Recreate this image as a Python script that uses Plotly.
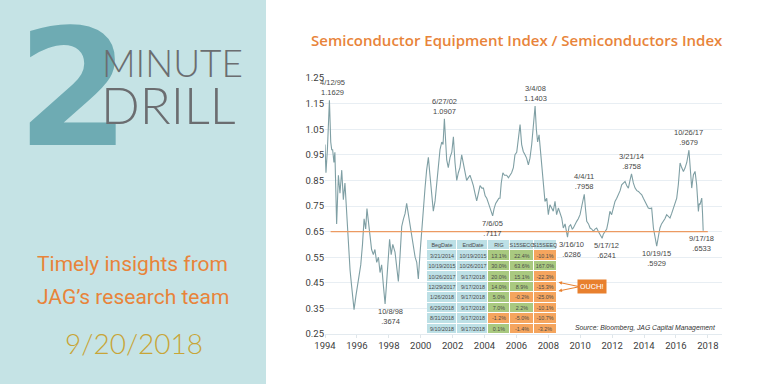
import plotly.graph_objects as go
import pandas as pd

# ---------------- data ----------------
# decimal-year dates and ratio values
DATES_DEC = [
    1995.00, 1995.06, 1995.15, 1995.22, 1995.277, 1995.36, 1995.42, 1995.48, 1995.56, 1995.62,
    1995.73, 1995.84, 1995.94, 1996.05, 1996.15, 1996.25, 1996.36, 1996.42, 1996.46, 1996.57,
    1996.67, 1996.82, 1996.94, 1997.09, 1997.24, 1997.35, 1997.45, 1997.55, 1997.63, 1997.72,
    1997.82, 1997.92, 1998.03, 1998.13, 1998.24, 1998.35, 1998.45, 1998.55, 1998.66, 1998.767,
    1998.85, 1998.95, 1999.05, 1999.15, 1999.25, 1999.39, 1999.50, 1999.60, 1999.70, 1999.81,
    1999.92, 2000.02, 2000.12, 2000.22, 2000.33, 2000.45, 2000.54, 2000.65, 2000.75, 2000.85,
    2000.95, 2001.06, 2001.17, 2001.27, 2001.37, 2001.48, 2001.58, 2001.68, 2001.79, 2001.90,
    2002.00, 2002.10, 2002.21, 2002.32, 2002.40, 2002.485, 2002.56, 2002.63, 2002.73, 2002.84,
    2002.95, 2003.05, 2003.15, 2003.26, 2003.36, 2003.46, 2003.57, 2003.67, 2003.78, 2003.88,
    2003.98, 2004.09, 2004.20, 2004.30, 2004.40, 2004.51, 2004.62, 2004.72, 2004.83, 2004.93,
    2005.04, 2005.14, 2005.25, 2005.35, 2005.510, 2005.60, 2005.70, 2005.80, 2005.90, 2005.97,
    2006.05, 2006.15, 2006.25, 2006.39, 2006.50, 2006.60, 2006.70, 2006.81, 2006.91, 2007.02,
    2007.23, 2007.33, 2007.43, 2007.54, 2007.64, 2007.75, 2007.85, 2007.96, 2008.06, 2008.172,
    2008.25, 2008.33, 2008.42, 2008.50, 2008.58, 2008.69, 2008.79, 2008.90, 2009.00, 2009.10,
    2009.21, 2009.31, 2009.42, 2009.52, 2009.63, 2009.73, 2009.84, 2009.94, 2010.05, 2010.203,
    2010.30, 2010.40, 2010.50, 2010.57, 2010.68, 2010.78, 2010.88, 2010.99, 2011.10, 2011.255,
    2011.33, 2011.41, 2011.52, 2011.62, 2011.72, 2011.83, 2011.93, 2012.03, 2012.14, 2012.24,
    2012.374, 2012.45, 2012.55, 2012.66, 2012.76, 2012.86, 2012.97, 2013.08, 2013.18, 2013.29,
    2013.39, 2013.50, 2013.60, 2013.70, 2013.81, 2013.91, 2014.02, 2014.12, 2014.216, 2014.33,
    2014.44, 2014.55, 2014.65, 2014.75, 2014.86, 2014.96, 2015.06, 2015.17, 2015.27, 2015.38,
    2015.48, 2015.59, 2015.69, 2015.797, 2015.90, 2016.00, 2016.10, 2016.21, 2016.31, 2016.42,
    2016.52, 2016.63, 2016.73, 2016.84, 2016.94, 2017.05, 2017.15, 2017.26, 2017.36, 2017.47,
    2017.57, 2017.68, 2017.816, 2017.89, 2017.99, 2018.05, 2018.10, 2018.20, 2018.30, 2018.41,
    2018.46, 2018.51, 2018.56, 2018.62, 2018.67, 2018.710,
]
RATIO = [
    0.99, 0.88, 0.97, 1.08, 1.1629, 1.00, 0.97, 0.97, 0.92, 0.96,
    0.68, 0.87, 0.80, 0.89, 0.775, 0.84, 0.72, 0.645, 0.618, 0.50,
    0.436, 0.345, 0.40, 0.462, 0.52, 0.60, 0.70, 0.66, 0.74, 0.69,
    0.62, 0.58, 0.56, 0.58, 0.53, 0.55, 0.49, 0.52, 0.44, 0.3674,
    0.44, 0.52, 0.62, 0.56, 0.60, 0.57, 0.52, 0.455, 0.55, 0.67,
    0.70, 0.72, 0.76, 0.72, 0.66, 0.62, 0.59, 0.55, 0.53, 0.465,
    0.56, 0.65, 0.77, 0.82, 0.89, 0.94, 0.87, 0.81, 0.73, 0.77,
    0.83, 0.90, 0.97, 1.00, 0.99, 1.0907, 0.98, 0.93, 0.90, 0.94,
    0.96, 1.02, 0.92, 0.85, 0.88, 0.90, 0.95, 0.92, 0.88, 0.85,
    0.86, 0.87, 0.85, 0.83, 0.80, 0.77, 0.80, 0.83, 0.82, 0.82,
    0.79, 0.78, 0.76, 0.74, 0.7117, 0.74, 0.76, 0.77, 0.78, 0.78,
    0.84, 0.88, 0.87, 0.87, 0.86, 0.87, 0.88, 0.90, 0.95, 0.96,
    1.068, 0.99, 0.963, 0.95, 0.937, 0.911, 0.937, 0.99, 1.068, 1.1403,
    1.05, 1.00, 1.028, 0.97, 0.911, 0.846, 0.768, 0.78, 0.716, 0.755,
    0.742, 0.73, 0.768, 0.716, 0.742, 0.72, 0.703, 0.664, 0.68, 0.6286,
    0.67, 0.677, 0.66, 0.664, 0.68, 0.69, 0.70, 0.716, 0.75, 0.7958,
    0.74, 0.69, 0.68, 0.664, 0.66, 0.651, 0.66, 0.664, 0.65, 0.638,
    0.6241, 0.64, 0.651, 0.66, 0.69, 0.729, 0.716, 0.74, 0.768, 0.78,
    0.794, 0.81, 0.833, 0.84, 0.846, 0.83, 0.82, 0.85, 0.8758, 0.84,
    0.82, 0.81, 0.807, 0.80, 0.794, 0.78, 0.768, 0.75, 0.742, 0.74,
    0.742, 0.664, 0.62, 0.5929, 0.63, 0.664, 0.68, 0.69, 0.70, 0.716,
    0.71, 0.703, 0.72, 0.742, 0.76, 0.781, 0.833, 0.918, 0.90, 0.885,
    0.898, 0.92, 0.9679, 0.885, 0.82, 0.85, 0.872, 0.885, 0.833, 0.729,
    0.76, 0.755, 0.77, 0.781, 0.72, 0.6533,
]
THRESHOLD = 0.65
THRESHOLD_SPAN = ["1995-05-10", "2019-01-01"]

PEAK_DATES = ["1995-04-12", "2002-06-27", "2005-07-06", "1998-10-08", "2008-03-04", "2010-03-16",
              "2011-04-04", "2012-05-17", "2014-03-21", "2015-10-19", "2017-10-26", "2018-09-17"]
PEAK_LABELS = ["4/12/95", "6/27/02", "7/6/05", "10/8/98", "3/4/08", "3/16/10",
               "4/4/11", "5/17/12", "3/21/14", "10/19/15", "10/26/17", "9/17/18"]
PEAK_VALUES = [1.1629, 1.0907, 0.7117, 0.3674, 1.1403, 0.6286, 0.7958, 0.6241, 0.8758, 0.5929, 0.9679, 0.6533]
PEAK_TEXT = ["1.1629", "1.0907", ".7117", ".3674", "1.1403", ".6286", ".7958", ".6241", ".8758", ".5929", ".9679", ".6533"]

Y_TICKS = [0.25, 0.35, 0.45, 0.55, 0.65, 0.75, 0.85, 0.95, 1.05, 1.15, 1.25]
X_TICK_LABELS = ["1994", "1996", "1998", "2000", "2002", "2004", "2006", "2008", "2010", "2012", "2014", "2016", "2018"]
X_TICK_DATES = ["1995-01-01", "1997-01-01", "1999-01-01", "2001-01-01", "2003-01-01", "2005-01-01", "2007-01-01",
                "2009-01-01", "2011-01-01", "2013-01-01", "2015-01-01", "2017-01-01", "2019-01-01"]

TABLE_HEADER = ["BegDate", "EndDate", "RIG", "S15SECO", "S15SEEQ"]
BEG_DATES = ["3/21/2014", "10/19/2015", "10/26/2017", "12/29/2017", "1/26/2018", "6/29/2018", "8/31/2018", "9/10/2018"]
END_DATES = ["10/19/2015", "10/26/2017", "9/17/2018", "9/17/2018", "9/17/2018", "9/17/2018", "9/17/2018", "9/17/2018"]
RIG = [13.1, 30.0, 20.0, 14.0, 5.0, 7.0, -1.2, 0.1]
SECO = [22.4, 63.6, 15.1, 8.9, -0.2, 2.2, -5.0, -1.4]
SEEQ = [-10.1, 167.0, -22.3, -15.3, -25.0, -10.1, -10.7, -3.2]

# ---------------- styling ----------------
W, H = 768, 384
ML, MR, MT, MB = 325, 46, 78, 50
PW, PH = W - ML - MR, H - MT - MB

def px_x(px):
    return (px - ML) / PW

def px_y(py):
    return (H - MB - py) / PH

SANS = "Liberation Sans, Arial, sans-serif"
PANEL = "#c5e3e5"
TEAL2 = "#6eabb3"
GRAYTXT = "#6b6d70"
ORANGE = "#e8843a"
GOLD = "#c8a537"
LINE = "#7f9fa4"
GRID = "#e8eef3"
T_BLUE = "#bde0e6"
T_GREEN = "#a9c980"
T_ORANGE = "#f5a55e"
OUCH = "#e8802e"


def dec_to_date(d):
    y = int(d)
    start = pd.Timestamp(year=y, month=1, day=1)
    end = pd.Timestamp(year=y + 1, month=1, day=1)
    return start + (end - start) * (d - y)

x_dates = [dec_to_date(d) for d in DATES_DEC]

fig = go.Figure()

fig.add_trace(go.Scatter(x=x_dates, y=RATIO, mode="lines",
                         line=dict(color=LINE, width=1.1), hoverinfo="skip", showlegend=False))

fig.add_trace(go.Scatter(x=THRESHOLD_SPAN, y=[THRESHOLD, THRESHOLD], mode="lines",
                         line=dict(color="#ec9a62", width=1.4), hoverinfo="skip", showlegend=False))

# ---------------- table drawn as a heatmap on its own axes ----------------
def fmt(v):
    return f"{v:.1f}%"

def code(v):
    return 1 if v >= 0 else 2

COL_WIDTHS = [30, 31, 21, 24, 23]
col_edges = [0]
for w in COL_WIDTHS:
    col_edges.append(col_edges[-1] + w)
n = len(BEG_DATES)
row_edges = list(range(n + 2))

z = [[0, 0, 0, 0, 0]]
txt = [TABLE_HEADER]
for i in range(n):
    z.append([0, 0, code(RIG[i]), code(SECO[i]), code(SEEQ[i])])
    txt.append([BEG_DATES[i], END_DATES[i], fmt(RIG[i]), fmt(SECO[i]), fmt(SEEQ[i])])

fig.add_trace(go.Heatmap(
    x=col_edges, y=row_edges, z=z, text=txt, texttemplate="%{text}",
    textfont=dict(family=SANS, size=5.4, color="#4a4a4a"),
    zmin=0, zmax=2, showscale=False, hoverinfo="skip", xgap=1, ygap=1,
    colorscale=[[0, T_BLUE], [0.333, T_BLUE], [0.334, T_GREEN], [0.666, T_GREEN], [0.667, T_ORANGE], [1, T_ORANGE]],
    xaxis="x2", yaxis="y2",
))

annotations = []
# peak/trough labels
above = [True, True, False, False, True, False, True, False, True, False, True, False]
xshifts = [3, 0, 0, 5, 0, 4, 0, 4, 0, 0, 0, -2]
for d, lab, v, t, up, xs in zip(PEAK_DATES, PEAK_LABELS, PEAK_VALUES, PEAK_TEXT, above, xshifts):
    annotations.append(dict(x=d, y=v, xref="x", yref="y", text=f"{lab}<br>{t}", showarrow=False,
                            xanchor="center", yanchor="bottom" if up else "top",
                            yshift=1 if up else -1, xshift=xs,
                            font=dict(family=SANS, size=7.5, color="#474747")))

# OUCH box and arrows
annotations.append(dict(x=px_x(591.8), y=px_y(286.7), xref="paper", yref="paper", text="OUCH!",
                        showarrow=False, bgcolor=OUCH, borderpad=2, xanchor="center", yanchor="middle",
                        font=dict(family="Roboto", size=8, color="white")))
for tip_y in (282.3, 291.0):
    annotations.append(dict(x=px_x(558.5), y=px_y(tip_y), xref="paper", yref="paper", text="",
                            showarrow=True, axref="pixel", ayref="pixel", ax=21, ay=286.7 - tip_y,
                            arrowhead=2, arrowsize=0.7, arrowwidth=1, arrowcolor=OUCH, standoff=0))

# source
annotations.append(dict(x=px_x(718), y=px_y(328), xref="paper", yref="paper",
                        text="<i>Source: Bloomberg, JAG Capital Management</i>", showarrow=False,
                        xanchor="right", yanchor="middle", font=dict(family=SANS, size=6.8, color="#333")))

# title
annotations.append(dict(x=px_x(516.5), y=px_y(40), xref="paper", yref="paper",
                        text="Semiconductor Equipment Index / Semiconductors Index", showarrow=False,
                        xanchor="center", yanchor="middle",
                        font=dict(family="Open Sans", size=15, color=ORANGE, weight=600)))

# left panel
annotations.append(dict(x=px_x(73), y=px_y(89), xref="paper", yref="paper", text="2", showarrow=False,
                        xanchor="center", yanchor="middle",
                        font=dict(family="DejaVu Sans", size=162, color=TEAL2, weight=700)))
annotations.append(dict(x=px_x(100), y=px_y(62.5), xref="paper", yref="paper", text="MINUTE", showarrow=False,
                        xanchor="left", yanchor="middle",
                        font=dict(family="Lato", size=37, color=GRAYTXT, weight=300)))
annotations.append(dict(x=px_x(99), y=px_y(104.5), xref="paper", yref="paper", text="DRILL", showarrow=False,
                        xanchor="left", yanchor="middle",
                        font=dict(family="Lato", size=51, color=GRAYTXT, weight=300)))
annotations.append(dict(x=px_x(132.5), y=px_y(264), xref="paper", yref="paper", text="Timely insights from",
                        showarrow=False, xanchor="center", yanchor="middle",
                        font=dict(family="Roboto", size=21, color=ORANGE)))
annotations.append(dict(x=px_x(132.5), y=px_y(297), xref="paper", yref="paper", text="JAG\u2019s research team",
                        showarrow=False, xanchor="center", yanchor="middle",
                        font=dict(family="Roboto", size=21, color=ORANGE)))
annotations.append(dict(x=px_x(133.5), y=px_y(342.5), xref="paper", yref="paper", text="9/20/2018",
                        showarrow=False, xanchor="center", yanchor="middle",
                        font=dict(family="Lato", size=28, color=GOLD, weight=300)))

shapes = [dict(type="rect", xref="paper", yref="paper", x0=px_x(-5), x1=px_x(266), y0=px_y(390), y1=px_y(-5),
               fillcolor=PANEL, line=dict(width=0), layer="below")]

fig.update_layout(
    width=W, height=H, margin=dict(l=ML, r=MR, t=MT, b=MB),
    paper_bgcolor="white", plot_bgcolor="white",
    showlegend=False, annotations=annotations, shapes=shapes,
    xaxis=dict(type="date", range=["1995-01-01", "2019-11-22"], tickvals=X_TICK_DATES, ticktext=X_TICK_LABELS,
               showgrid=False, zeroline=False, showline=True, linecolor="#e3eaef", linewidth=1,
               ticks="outside", ticklen=3, tickcolor="#dfe6ea",
               tickfont=dict(family="Roboto", size=9.5, color="#3d3d3d")),
    yaxis=dict(range=[0.25, 1.25], tickvals=Y_TICKS, ticktext=[f"{v:.2f}" for v in Y_TICKS],
               showgrid=True, gridcolor=GRID, gridwidth=1, zeroline=False, showline=False, ticks="",
               tickfont=dict(family="Roboto", size=9.5, color="#3d3d3d")),
    xaxis2=dict(domain=[px_x(427), px_x(557)], range=[0, col_edges[-1]], visible=False, anchor="y2",
                fixedrange=True),
    yaxis2=dict(domain=[0, px_y(240)], range=[row_edges[-1], 0], visible=False, anchor="x2",
                fixedrange=True),
)

fig.write_html("out.html", config={"displayModeBar": False},
               post_script="document.body.style.margin='0';document.body.style.padding='0';")
